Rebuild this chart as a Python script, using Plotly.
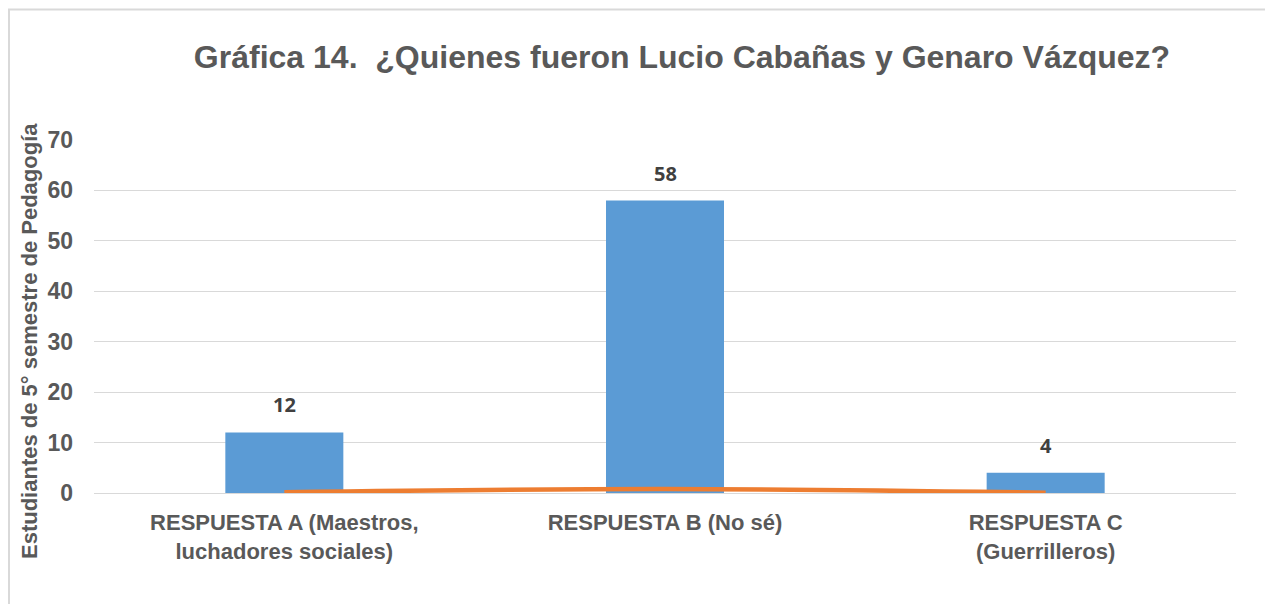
import plotly.graph_objects as go

categories = ["RESPUESTA A (Maestros,<br>luchadores sociales)", "RESPUESTA B (No sé)", "RESPUESTA C<br>(Guerrilleros)"]
students = [12, 58, 4]
share = [0.16, 0.78, 0.05]
y_ticks = [0, 10, 20, 30, 40, 50, 60, 70]

OFF = 8  # page body margin
W, H = 1273 - OFF, 604 - OFF
L, T = 94 - OFF, 140 - OFF
R = W - (1236 - OFF)
B = H - (493 - OFF)
pw = W - L - R
ph = H - T - B

def px_x(x):
    return (x - OFF - L) / pw

def px_y(y):
    return (H - B - (y - OFF)) / ph

fig = go.Figure()
fig.add_trace(go.Bar(x=categories, y=students, marker=dict(color="#5B9BD5", line=dict(width=0)),
                     width=0.31, showlegend=False, hoverinfo="skip"))
fig.add_trace(go.Scatter(x=categories, y=share, mode="lines",
                         line=dict(color="#ED7D31", width=4.5, shape="spline"),
                         showlegend=False, hoverinfo="skip"))

for c, v in zip(categories, students):
    fig.add_annotation(x=c, y=v, text=f"<b>{v}</b>", showarrow=False, yanchor="bottom",
                       yshift=12, font=dict(family="Open Sans, Liberation Sans", size=20, color="#404040"))

# y-axis title
fig.add_annotation(xref="paper", yref="paper", x=px_x(29), y=px_y(341),
                   text="<b>Estudiantes de 5° semestre de Pedagogía</b>", textangle=-90,
                   showarrow=False, xanchor="center", yanchor="middle",
                   font=dict(family="Liberation Sans, Arial", size=22, color="#595959"))

# outer border
fig.add_shape(type="rect", xref="paper", yref="paper",
              x0=px_x(9), x1=px_x(1272), y0=px_y(640), y1=px_y(9.5),
              line=dict(color="#D9D9D9", width=2), fillcolor="rgba(0,0,0,0)", layer="below")

fig.update_layout(
    width=W, height=H,
    margin=dict(l=L, r=R, t=T, b=B),
    paper_bgcolor="white", plot_bgcolor="white",
    title=dict(text="<b>Gráfica 14.  ¿Quienes fueron Lucio Cabañas y Genaro Vázquez?</b>",
               x=(682 - OFF) / W, xanchor="center", y=1 - (57 - OFF) / H, yanchor="middle",
               font=dict(family="Liberation Sans, Arial", size=32, color="#595959")),
    xaxis=dict(showgrid=False, showline=False, ticks="", zeroline=False,
               ticklabelstandoff=14,
               tickfont=dict(family="Liberation Sans, Arial", size=22, color="#595959", weight="bold")),
    yaxis=dict(range=[0, 70], tickvals=y_ticks, showgrid=True, gridcolor="#D9D9D9", gridwidth=1,
               zeroline=True, zerolinecolor="#D9D9D9", zerolinewidth=1, showline=False, ticks="",
               ticklabelstandoff=20,
               tickfont=dict(family="Liberation Sans, Arial", size=23, color="#595959", weight="bold")),
    bargap=0.69,
)

fig.write_html("out.html")
